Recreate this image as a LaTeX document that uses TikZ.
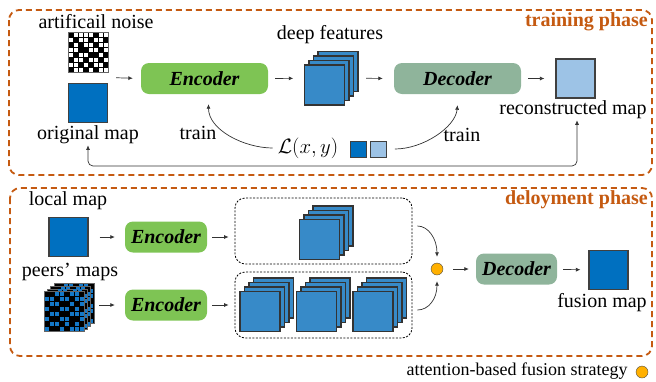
\documentclass[tikz,border=0pt]{standalone}
\usepackage{fontspec}
\setmainfont{Liberation Serif}
\usetikzlibrary{arrows.meta,calc}

\definecolor{phaseorange}{RGB}{197,90,17}
\definecolor{mapblue}{RGB}{0,112,192}
\definecolor{featblue}{RGB}{55,138,200}
\definecolor{reconblue}{RGB}{157,195,230}
\definecolor{encgreen}{RGB}{126,196,84}
\definecolor{decgreen}{RGB}{143,180,155}
\definecolor{dotorange}{RGB}{255,176,0}
\definecolor{peerblue}{RGB}{20,120,200}

\tikzset{
  txt/.style={font=\fontsize{20}{24}\selectfont, inner sep=1pt},
  phasebox/.style={draw=phaseorange, line width=1.8pt, dash pattern=on 6pt off 4pt, rounded corners=10pt},
  phaselbl/.style={text=phaseorange, font=\fontsize{20}{24}\selectfont\bfseries, anchor=east, inner sep=0pt},
  mapsq/.style={draw=black!75, line width=1.1pt, minimum size=39pt, inner sep=0pt},
  featsq/.style={draw=black!80, fill=featblue, line width=1.1pt},
  netbox/.style={rounded corners=8pt, minimum height=31pt, inner sep=0pt, font=\fontsize{20}{24}\selectfont\bfseries\itshape},
  encbox/.style={netbox, fill=encgreen},
  decbox/.style={netbox, fill=decgreen},
  holder/.style={draw, line width=0.8pt, dash pattern=on 2pt off 1.5pt, rounded corners=10pt, minimum width=177pt, minimum height=66pt},
  arr/.style={->, line width=0.7pt, draw=black!80},
  fusedot/.style={circle, draw=black!70, fill=dotorange, minimum size=12pt, inner sep=0pt},
}

% cells of the noise / peer grids (column/row)
\newcommand{\noisecells}{1/0,2/0,3/0,4/0,6/0,7/0,0/1,2/1,3/1,5/1,6/1,1/2,3/2,4/2,6/2,7/2,0/3,1/3,4/3,5/3,7/3,0/4,2/4,3/4,6/4,1/5,2/5,4/5,5/5,7/5,0/6,1/6,3/6,5/6,6/6,1/7,2/7,4/7,6/7,7/7}
\newcommand{\peercells}{2/0,3/0,5/0,6/0,0/1,1/1,3/1,4/1,6/1,7/1,1/2,2/2,5/2,7/2,0/3,3/3,4/3,6/3,1/4,2/4,5/4,6/4,7/4,0/5,3/5,4/5,7/5,1/6,2/6,4/6,6/6,0/7,3/7,5/7,6/7,7/7}

% #1 name, #2 x, #3 y, #4 cell colour, #5 cell list
\newcommand{\gridmap}[5]{%
  \node[draw=black!60, fill=black, line width=0.5pt, minimum size=40pt, inner sep=0pt] (#1) at (#2,#3) {};
  \foreach \i/\j in #5 {\fill[#4] (#2-20+5*\i+0.5,#3-20+5*\j+0.5) rectangle ++(4,4);}
}

% #1 name, #2 x, #3 y of the front square
\newcommand{\featstack}[3]{%
  \foreach \k in {3,2,1,0} {\filldraw[featsq] (#2-20+4.5*\k,#3-20-4.5*\k) rectangle ++(40,40);}
  \node[minimum size=53.5pt, inner sep=0pt] (#1) at (#2+6.75,#3-6.75) {};
}

\begin{document}
\begin{tikzpicture}[x=1pt,y=-1pt,>={Latex[length=4.5pt,width=4pt]}]
  \useasboundingbox (0,0) rectangle (656,381);

  % Phase frames
  \draw[phasebox] (9,10) rectangle (652,175);
  \draw[phasebox] (10,188) rectangle (652,356);
  \node[phaselbl] (train-lbl) at (648,22) {training phase};
  \node[phaselbl] (deploy-lbl) at (648,200) {deloyment phase};

  % Training phase
  \node[txt] (noise-lbl) at (96,22) {artificail noise};
  \gridmap{noise}{88}{52}{white}{\noisecells}
  \node[mapsq, fill=mapblue] (orig) at (88,103) {};
  \node[txt] (orig-lbl) at (88,135) {original map};
  \node[encbox, minimum width=127pt] (enc-t) at (204.5,78.5) {Encoder};
  \node[txt] (feat-lbl) at (330,35) {deep features};
  \featstack{feat-t}{324.5}{85}
  \node[decbox, minimum width=127pt] (dec-t) at (457.5,78.5) {Decoder};
  \node[mapsq, fill=reconblue] (recon) at (575.5,78.5) {};
  \node[txt] (recon-lbl) at (573,110) {reconstructed map};

  \draw[arr, shorten <=8pt, shorten >=8pt] ($(noise.east)!.5!(orig.east)$) -- (enc-t.west);
  \draw[arr, shorten <=7pt, shorten >=11pt] (enc-t.east) -- (feat-t.west);
  \draw[arr, shorten <=8pt, shorten >=11pt] (feat-t.east) -- (dec-t.west);
  \draw[arr, shorten <=7pt, shorten >=11pt] (dec-t.east) -- (recon.west);

  % Loss and training feedback
  \node[txt] (loss) at (308,148) {$\mathcal{L}(x,y)$};
  \node[mapsq, fill=mapblue, minimum size=16pt, line width=0.9pt] (loss-a) at (358,149) {};
  \node[mapsq, fill=reconblue, minimum size=16pt, line width=0.9pt] (loss-b) at (378.5,149) {};
  \node[txt] (train-a) at (198,133) {train};
  \node[txt] (train-b) at (462,135) {train};
  \draw[arr, shorten <=4pt] (loss.west) .. controls +(-32,0) and +(0,26) .. ([shift={(4,10)}]enc-t.south);
  \draw[arr, shorten <=8pt] (loss-b.east) .. controls +(36,0) and +(-2,22) .. ([shift={(0,11)}]dec-t.south);
  \coordinate (loop) at (330,166);
  \draw[arr, <->, rounded corners=5pt] (orig-lbl.south) |- (loop) -| ([xshift=4pt]recon-lbl.south);

  % Deployment phase
  \node[txt] (local-lbl) at (68,201) {local map};
  \node[mapsq, fill=mapblue] (local) at (68.5,237) {};
  \node[txt] (peers-lbl) at (70,272) {peers' maps};
  \gridmap{peer-d}{73.9}{303.4}{peerblue}{\peercells}
  \gridmap{peer-c}{70.6}{306.1}{peerblue}{\peercells}
  \gridmap{peer-b}{67.3}{308.8}{peerblue}{\peercells}
  \gridmap{peer-a}{64}{311.5}{peerblue}{\peercells}
  \node[minimum width=50pt, minimum height=48pt, inner sep=0pt] (peers) at (69,305) {};
  \node[encbox, minimum width=82pt] (enc-l) at (166,237) {Encoder};
  \node[encbox, minimum width=82pt] (enc-p) at (166,305) {Encoder};
  \node[holder] (hold-l) at (323.5,231) {};
  \node[holder] (hold-p) at (323.5,305) {};
  \featstack{feat-l}{319.5}{239.5}
  \featstack{feat-p1}{260}{311.5}
  \featstack{feat-p2}{316.5}{311.5}
  \featstack{feat-p3}{373}{311.5}
  \node[fusedot] (fuse) at (437,269) {};
  \node[decbox, minimum width=81pt] (dec-d) at (516.5,269) {Decoder};
  \node[mapsq, fill=mapblue] (fusion) at (608.5,270) {};
  \node[txt] (fusion-lbl) at (602,303) {fusion map};

  \draw[arr, shorten <=11pt, shorten >=10pt] (local) -- (enc-l);
  \draw[arr, shorten <=5pt, shorten >=10pt] (peers) -- (enc-p);
  \draw[arr, shorten <=5pt, shorten >=6pt] (enc-l.east) -- (enc-l.east -| hold-l.west);
  \draw[arr, shorten <=5pt, shorten >=6pt] (enc-p) -- (hold-p);
  \draw[arr, shorten <=5pt] ([yshift=5pt]hold-l.east) .. controls +(16,0) and +(0,-18) .. ([yshift=6pt]fuse.north);
  \draw[arr, shorten <=5pt] ([yshift=-5pt]hold-p.east) .. controls +(16,0) and +(0,18) .. ([yshift=-6pt]fuse.south);
  \draw[arr, shorten <=10pt, shorten >=7pt] (fuse) -- (dec-d);
  \draw[arr, shorten <=6pt, shorten >=8pt] (dec-d) -- (fusion);

  % Legend
  \node[txt, font=\fontsize{18}{22}\selectfont] (key-lbl) at (517,371) {attention-based fusion strategy};
  \node[fusedot] (key-dot) at (642,372) {};
\end{tikzpicture}
\end{document}
